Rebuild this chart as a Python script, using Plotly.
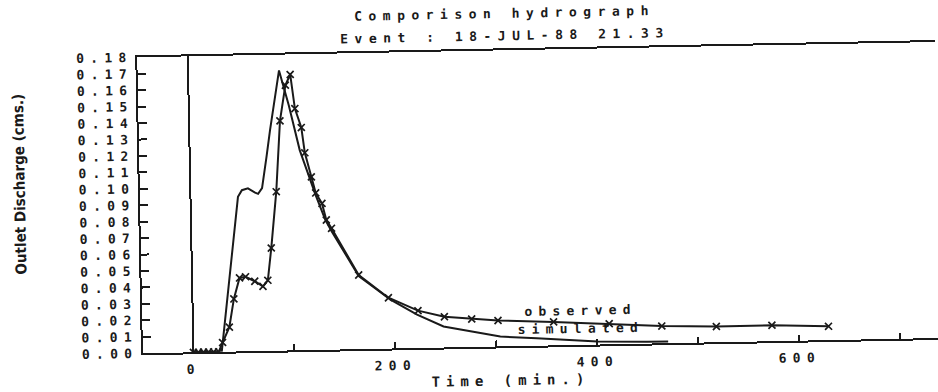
import plotly.graph_objects as go

# Observed outlet discharge (cms) against time (min)
obs_time = [0, 5, 10, 15, 20, 25, 29, 36, 41, 47, 53, 62, 70, 75, 79, 85, 90, 96,
            101, 105, 111, 114, 120, 124, 130, 134, 139, 165, 194, 223, 249, 276,
            302, 357, 412, 464, 518, 573, 629]
obs_q = [0, 0, 0, 0, 0, 0, 0.0056, 0.0149, 0.032, 0.0447, 0.0453, 0.0425, 0.0393,
         0.0429, 0.0625, 0.0967, 0.1397, 0.1613, 0.1678, 0.147, 0.1354, 0.120,
         0.1053, 0.0955, 0.089, 0.0789, 0.0738, 0.0451, 0.0309, 0.0227, 0.0187,
         0.017, 0.0158, 0.0143, 0.0125, 0.0105, 0.0096, 0.0097, 0.0084]

# Simulated outlet discharge (cms)
sim_time = [0, 28, 32, 36, 40, 44, 47, 51, 57, 64, 67, 71, 73, 76, 80, 86, 90, 99,
            109, 124, 133, 139, 165, 196, 222, 248, 276, 304, 340, 376, 400, 449, 470]
sim_q = [0, 0, 0.0197, 0.0398, 0.0599, 0.0799, 0.094, 0.098, 0.0991, 0.0964, 0.0956,
         0.099, 0.1059, 0.118, 0.1342, 0.1544, 0.1704, 0.1491, 0.1217, 0.094, 0.079,
         0.072, 0.0445, 0.0297, 0.0203, 0.0128, 0.0095, 0.006, 0.0045, 0.0031,
         0.0018, 0.0012, 0.001]

y_tickvals = [i / 100 for i in range(19)]
y_ticktext = ["%.2f" % v for v in y_tickvals]
x_tickvals = [0, 100, 200, 300, 400, 500, 600, 700]
x_ticktext = ["0", "", "200", "", "400", "", "600", ""]

INK = "#1a1a1a"
PLOTTER = "DejaVu Sans Mono"
PEN = dict(family=PLOTTER, size=14, color=INK, weight="bold")
PEN_SMALL = dict(family=PLOTTER, size=13, color=INK, weight="bold")

fig = go.Figure()
fig.add_trace(go.Scatter(
    x=sim_time, y=sim_q, mode="lines", name="simulated",
    line=dict(color=INK, width=2),
))
fig.add_trace(go.Scatter(
    x=obs_time, y=obs_q, mode="lines+markers", name="observed",
    line=dict(color=INK, width=2),
    marker=dict(symbol="x-thin", size=7, line=dict(color=INK, width=1.7)),
))

fig.update_layout(
    width=938, height=392,
    margin=dict(l=140, r=0, t=51, b=45),
    paper_bgcolor="white", plot_bgcolor="white",
    showlegend=False,
    font=PEN,
    title=dict(
        text="Comporison hydrograph",
        xref="container", yref="container",
        x=508 / 938, y=1 - 14 / 392, xanchor="center", yanchor="middle",
        font=PEN_SMALL,
    ),
    xaxis=dict(
        range=[-50, 739.9], showgrid=False,
        showline=True, linecolor=INK, linewidth=2, mirror=True,
        zeroline=True, zerolinecolor=INK, zerolinewidth=2,
        ticks="inside", ticklen=6, tickwidth=1.5, tickcolor=INK,
        tickvals=x_tickvals, ticktext=x_ticktext,
        tickfont=PEN_SMALL, ticklabelstandoff=4,
    ),
    yaxis=dict(
        range=[0, 0.18], showgrid=False, zeroline=False,
        showline=True, linecolor=INK, linewidth=2,
        ticks="inside", ticklen=8, tickwidth=1.5, tickcolor=INK,
        tickvals=y_tickvals, ticktext=y_ticktext,
        tickfont=PEN_SMALL,
    ),
    annotations=[
        dict(text="Outlet Discharge (cms.)", textangle=-90,
             xref="paper", yref="paper", x=(20 - 140) / 798, y=(347 - 176) / 296,
             showarrow=False, xanchor="center", yanchor="middle",
             font=dict(family="Liberation Sans Narrow, DejaVu Sans Condensed, sans-serif",
                       size=15, color=INK, weight="bold")),
        dict(text="Event : 18-JUL-88 21.33", xref="paper", yref="paper",
             x=(508 - 140) / 798, y=(347 - 36) / 296,
             showarrow=False, xanchor="center", yanchor="middle", font=PEN_SMALL),
        dict(text="Time (min.)", xref="paper", yref="paper",
             x=(507 - 140) / 798, y=(347 - 381) / 296,
             showarrow=False, xanchor="center", yanchor="middle"),
        dict(text="observed", x=384, y=0.0208, xref="x", yref="y",
             showarrow=False, xanchor="center", yanchor="middle", font=PEN_SMALL),
        dict(text="simulated", x=384, y=0.0103, xref="x", yref="y",
             showarrow=False, xanchor="center", yanchor="middle", font=PEN_SMALL),
    ],
)

# Wide pen-plotter lettering and the sheet's slight tilt
post = """
var gd = document.getElementById('{plot_id}');
gd.style.transformOrigin = '469px 196px';
gd.style.transform = 'rotate(-1.1deg)';
var st = document.createElement('style');
st.textContent = '.main-svg text {letter-spacing: 6.5px;} ' +
                 '.xtick text, .ytick text {letter-spacing: 6.3px;} ' +
                 '.annotation[data-index="2"] text {letter-spacing: 6px;} ' +
                 '.annotation[data-index="3"] text, .annotation[data-index="4"] text {letter-spacing: 6.2px;} ' +
                 '.annotation[data-index="0"] text {letter-spacing: 0px;}';
document.head.appendChild(st);
"""

fig.write_html("out.html", post_script=post)
